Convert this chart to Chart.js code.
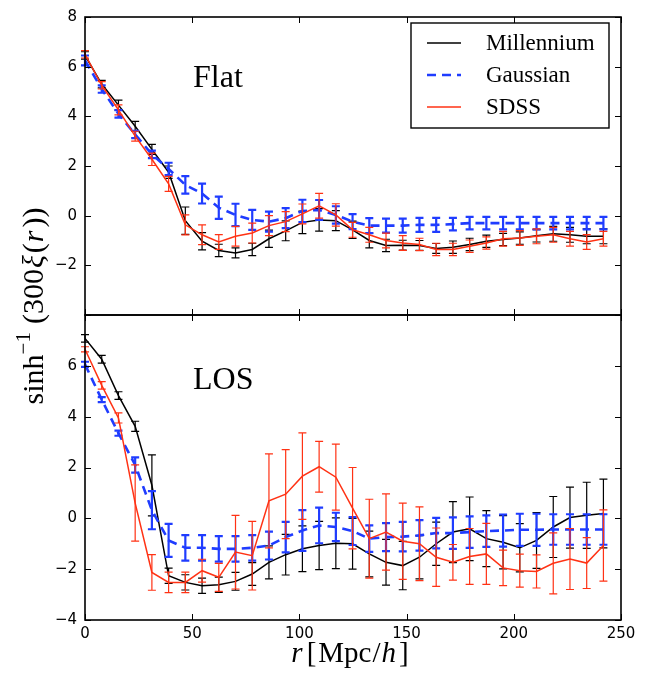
<!DOCTYPE html>
<html lang="en">
<head>
<meta charset="UTF-8" />
<title>sinh^-1(300 xi(r)) - Flat and LOS</title>
<style>
  body { margin: 0; background: #fff; }
  #wrap { position: relative; width: 654px; height: 679px; }
  #wrap canvas { position: absolute; left: 0; top: 0; }
</style>
</head>
<body>
<div id="wrap">
  <canvas id="flatChart" width="654" height="679"></canvas>
  <canvas id="losChart" width="654" height="679"></canvas>
</div>

<script src="https://cdn.jsdelivr.net/npm/chart.js"></script>
<script>
  // separation r [Mpc/h]
  const rValues = [0, 7.8, 15.6, 23.4, 31.2, 39, 46.8, 54.6, 62.4, 70.2, 78, 85.8, 93.6, 101.4, 109.2, 117,
                   124.8, 132.6, 140.4, 148.2, 156, 163.8, 171.6, 179.4, 187.2, 195, 202.8, 210.6, 218.4, 226.2, 234, 241.8];
  const xTicks = [0, 50, 100, 150, 200, 250];
  const yTicks = [-4, -2, 0, 2, 4, 6, 8];
  const seriesNames = ['Millennium', 'Gaussian', 'SDSS'];

  // Flat panel
  const flatMillennium = [6.45, 5.3, 4.45, 3.6, 2.67, 1.75, -0.2, -1.03, -1.4, -1.5, -1.36, -0.93, -0.61, -0.27, -0.17, -0.2,
                          -0.57, -1.0, -1.2, -1.19, -1.2, -1.32, -1.27, -1.16, -1.03, -0.96, -0.9, -0.81, -0.73, -0.77, -0.83, -0.83];
  const flatMillenniumErr = [0.15, 0.15, 0.2, 0.2, 0.2, 0.25, 0.55, 0.35, 0.25, 0.2, 0.25, 0.35, 0.4, 0.45, 0.45, 0.4,
                             0.35, 0.3, 0.25, 0.2, 0.2, 0.2, 0.25, 0.25, 0.25, 0.25, 0.25, 0.25, 0.3, 0.3, 0.3, 0.3];
  const flatGaussian = [6.25, 5.1, 4.1, 3.27, 2.47, 1.88, 1.24, 0.89, 0.32, 0.03, -0.17, -0.24, -0.1, 0.19, 0.23, 0.03,
                        -0.24, -0.4, -0.4, -0.4, -0.37, -0.37, -0.34, -0.3, -0.3, -0.3, -0.3, -0.3, -0.3, -0.3, -0.3, -0.3];
  const flatGaussianErr = [0.2, 0.15, 0.15, 0.15, 0.15, 0.25, 0.35, 0.4, 0.45, 0.45, 0.4, 0.4, 0.4, 0.45, 0.4, 0.35,
                           0.3, 0.3, 0.28, 0.28, 0.28, 0.28, 0.25, 0.25, 0.25, 0.25, 0.25, 0.25, 0.25, 0.25, 0.25, 0.25];
  const flatSdss = [6.5, 5.25, 4.26, 3.2, 2.27, 1.28, -0.37, -0.77, -1.06, -0.83, -0.7, -0.4, -0.24, 0.07, 0.4, 0.03,
                    -0.57, -0.77, -1.0, -1.1, -1.16, -1.36, -1.36, -1.23, -1.1, -0.93, -0.9, -0.83, -0.77, -0.93, -1.06, -0.93];
  const flatSdssErr = [0.15, 0.15, 0.2, 0.2, 0.25, 0.3, 0.4, 0.4, 0.3, 0.4, 0.4, 0.4, 0.4, 0.4, 0.5, 0.45,
                       0.3, 0.3, 0.3, 0.3, 0.25, 0.25, 0.25, 0.25, 0.25, 0.3, 0.3, 0.3, 0.3, 0.3, 0.3, 0.3];

  // LOS panel
  const losMillennium = [7.08, 6.26, 4.83, 3.62, 1.3, -2.26, -2.52, -2.65, -2.61, -2.48, -2.19, -1.73, -1.43, -1.2, -1.07, -0.98,
                         -1.0, -1.4, -1.73, -1.86, -1.53, -1.0, -0.54, -0.41, -0.8, -0.94, -1.16, -0.87, -0.34, 0.03, 0.12, 0.19];
  const losMillenniumErr = [0.15, 0.15, 0.15, 0.2, 1.2, 0.3, 0.3, 0.3, 0.3, 0.35, 0.45, 0.65, 0.8, 0.9, 0.95, 1.0,
                            1.0, 0.9, 0.9, 0.95, 0.85, 0.85, 1.2, 1.25, 1.1, 1.05, 0.95, 1.1, 1.2, 1.2, 1.3, 1.35];
  const losGaussian = [6.06, 4.67, 3.35, 2.1, 0.32, -0.87, -1.16, -1.16, -1.2, -1.2, -1.16, -1.07, -0.74, -0.48, -0.28, -0.34,
                       -0.5, -0.8, -0.74, -0.72, -0.67, -0.58, -0.58, -0.54, -0.5, -0.48, -0.45, -0.45, -0.44, -0.44, -0.44, -0.44];
  const losGaussianErr = [0.1, 0.1, 0.1, 0.3, 0.75, 0.65, 0.5, 0.5, 0.5, 0.5, 0.5, 0.55, 0.6, 0.8, 0.7, 0.56,
                          0.55, 0.52, 0.55, 0.58, 0.6, 0.6, 0.62, 0.62, 0.62, 0.63, 0.63, 0.63, 0.6, 0.6, 0.6, 0.6];
  const losSdss = [6.65, 5.23, 3.95, 0.6, -2.13, -2.52, -2.52, -2.06, -2.32, -1.33, -1.47, 0.69, 0.95, 1.66, 2.03, 1.62,
                   0.4, -0.8, -0.54, -0.9, -1.0, -1.53, -1.73, -1.5, -1.4, -1.95, -2.06, -2.09, -1.77, -1.6, -1.76, -1.07];
  const losSdssErr = [0.1, 0.15, 0.2, 1.5, 0.7, 0.4, 0.4, 0.45, 0.55, 1.45, 1.35, 1.85, 1.75, 1.7, 1.0, 1.3,
                      1.6, 1.55, 1.5, 1.5, 1.45, 1.15, 0.7, 1.1, 1.2, 0.7, 0.65, 0.65, 1.2, 1.2, 1.0, 1.4];

  const BLACK = '#000000';
  const BLUE = '#1f3cff';
  const RED = '#ff3214';
  const SERIF = '"Liberation Serif", "DejaVu Serif", serif';

  Chart.defaults.font.family = '"DejaVu Sans", sans-serif';
  Chart.defaults.font.size = 15;
  Chart.defaults.color = '#000';

  function toPoints(ys) {
    return ys.map((y, i) => ({ x: rValues[i], y: y }));
  }

  function makeDatasets(m, mErr, g, gErr, s, sErr) {
    return [
      { label: seriesNames[0], data: toPoints(m), errors: mErr, borderColor: BLACK, borderWidth: 1.5,
        errWidth: 1.2, order: 3 },
      { label: seriesNames[1], data: toPoints(g), errors: gErr, borderColor: BLUE, borderWidth: 2.6,
        borderDash: [9, 6], errWidth: 2.2, order: 2 },
      { label: seriesNames[2], data: toPoints(s), errors: sErr, borderColor: RED, borderWidth: 1.5,
        errWidth: 1.2, order: 1 }
    ];
  }

  // error bars drawn right after each line, through the chart's own y scale
  const errorBars = {
    id: 'errorBars',
    afterDatasetDraw(chart, args) {
      const ds = chart.data.datasets[args.index];
      const yScale = chart.scales.y;
      const ctx = chart.ctx;
      const cap = 4;
      ctx.save();
      ctx.strokeStyle = ds.borderColor;
      ctx.lineWidth = ds.errWidth;
      ctx.setLineDash([]);
      args.meta.data.forEach((pt, i) => {
        const v = ds.data[i].y, e = ds.errors[i];
        const x = pt.x;
        const yHi = yScale.getPixelForValue(v + e);
        const yLo = yScale.getPixelForValue(v - e);
        ctx.beginPath();
        ctx.moveTo(x, yHi); ctx.lineTo(x, yLo);
        ctx.moveTo(x - cap, yHi); ctx.lineTo(x + cap, yHi);
        ctx.moveTo(x - cap, yLo); ctx.lineTo(x + cap, yLo);
        ctx.stroke();
      });
      ctx.restore();
    }
  };

  // matplotlib style box with inward ticks on all four sides, plus panel label
  const frame = {
    id: 'frame',
    afterDraw(chart, args, opts) {
      const { ctx, chartArea: a, scales } = chart;
      const xs = scales.x, ys = scales.y;
      ctx.save();
      ctx.strokeStyle = '#000';
      ctx.lineWidth = 1;
      ctx.beginPath();
      xTicks.forEach(t => {
        const px = Math.round(xs.getPixelForValue(t)) + 0.5;
        ctx.moveTo(px, a.bottom); ctx.lineTo(px, a.bottom - 6);
        ctx.moveTo(px, a.top); ctx.lineTo(px, a.top + 6);
      });
      yTicks.forEach(t => {
        const py = Math.round(ys.getPixelForValue(t)) + 0.5;
        ctx.moveTo(a.left, py); ctx.lineTo(a.left + 6, py);
        ctx.moveTo(a.right, py); ctx.lineTo(a.right - 6, py);
      });
      ctx.stroke();
      ctx.lineWidth = 1.6;
      ctx.strokeRect(a.left, a.top, a.right - a.left, a.bottom - a.top);

      ctx.fillStyle = '#000';
      ctx.font = '32px ' + SERIF;
      ctx.textBaseline = 'alphabetic';
      ctx.textAlign = 'left';
      ctx.fillText(opts.label, opts.labelX, opts.labelY);
      ctx.restore();
    }
  };

  // legend box in the upper right of the Flat panel
  const legendBox = {
    id: 'legendBox',
    afterDraw(chart) {
      const ctx = chart.ctx;
      const left = 411, top = 23, w = 198, h = 105;
      ctx.save();
      ctx.fillStyle = '#fff';
      ctx.fillRect(left, top, w, h);
      ctx.strokeStyle = '#000';
      ctx.lineWidth = 1.4;
      ctx.strokeRect(left, top, w, h);
      ctx.font = '23px ' + SERIF;
      ctx.textBaseline = 'middle';
      chart.data.datasets.forEach((ds, i) => {
        const y = 43 + i * 32;
        ctx.strokeStyle = ds.borderColor;
        ctx.lineWidth = ds.borderWidth;
        ctx.setLineDash(ds.borderDash || []);
        ctx.beginPath();
        ctx.moveTo(427, y); ctx.lineTo(461, y);
        ctx.stroke();
        ctx.setLineDash([]);
        ctx.fillStyle = '#000';
        ctx.fillText(ds.label, 486, y + 1);
      });
      ctx.restore();
    }
  };

  // axis titles with mixed roman / italic pieces (gap = extra math spacing after a piece)
  function drawPieces(ctx, pieces, startX, baseY) {
    let x = startX;
    pieces.forEach(p => {
      ctx.font = p.font;
      ctx.fillText(p.text, x, baseY + (p.dy || 0));
      x += ctx.measureText(p.text).width + (p.gap || 0);
    });
  }
  function piecesWidth(ctx, pieces) {
    let w = 0;
    pieces.forEach(p => { ctx.font = p.font; w += ctx.measureText(p.text).width + (p.gap || 0); });
    return w;
  }

  const axisTitles = {
    id: 'axisTitles',
    afterDraw(chart) {
      const ctx = chart.ctx;
      ctx.save();
      ctx.fillStyle = '#000';
      ctx.textBaseline = 'alphabetic';
      ctx.textAlign = 'left';

      const xr = '29px ' + SERIF, xi = 'italic 29px ' + SERIF;
      const xt = [
        { text: 'r', font: xi, gap: 4 }, { text: '[', font: xr, gap: 2 }, { text: 'Mpc', font: xr, gap: 1 },
        { text: '/', font: xr, gap: 1 }, { text: 'h', font: xi, gap: 3 }, { text: ']', font: xr }
      ];
      const xw = piecesWidth(ctx, xt);
      drawPieces(ctx, xt, 350 - xw / 2, 662);

      const rom = '30px ' + SERIF, ita = 'italic 30px ' + SERIF, sup = '21px ' + SERIF;
      const yt = [
        { text: 'sinh', font: rom }, { text: '\u22121', font: sup, dy: -13, gap: 8 },
        { text: '(300', font: rom, gap: 1 }, { text: '\u03be', font: ita, gap: 2 }, { text: '(', font: rom, gap: 1 },
        { text: 'r', font: ita, gap: 3 }, { text: '))', font: rom }
      ];
      const yw = piecesWidth(ctx, yt);
      ctx.translate(43, 306);
      ctx.rotate(-Math.PI / 2);
      drawPieces(ctx, yt, -yw / 2, 0);
      ctx.restore();
    }
  };

  function yTickLabel(hidden) {
    return v => (v === hidden ? '' : String(v).replace('-', '\u2212'));
  }

  function baseOptions(hiddenY, showX, padding, label, labelY) {
    return {
      responsive: false,
      animation: false,
      layout: { padding: padding },
      elements: { point: { radius: 0, hoverRadius: 0 }, line: { tension: 0, fill: false } },
      plugins: {
        legend: { display: false },
        tooltip: { enabled: false },
        frame: { label: label, labelX: 193, labelY: labelY }
      },
      scales: {
        x: {
          type: 'linear', min: 0, max: 250, display: showX,
          grid: { display: false, drawTicks: false },
          border: { display: false },
          ticks: { stepSize: 50, autoSkip: false, padding: 5, maxRotation: 0 },
          afterFit: s => { s.height = showX ? 59 : 0; }
        },
        y: {
          type: 'linear', min: -4, max: 8,
          grid: { display: false, drawTicks: false },
          border: { display: false },
          ticks: { stepSize: 2, padding: 8, callback: yTickLabel(hiddenY) },
          afterFit: s => { s.width = 85; }
        }
      }
    };
  }

  new Chart(document.getElementById('flatChart'), {
    type: 'line',
    data: { datasets: makeDatasets(flatMillennium, flatMillenniumErr, flatGaussian, flatGaussianErr, flatSdss, flatSdssErr) },
    options: baseOptions(-4, false, { top: 12, right: 33, bottom: 364, left: 0 }, 'Flat', 87),
    plugins: [errorBars, frame, legendBox]
  });

  new Chart(document.getElementById('losChart'), {
    type: 'line',
    data: { datasets: makeDatasets(losMillennium, losMillenniumErr, losGaussian, losGaussianErr, losSdss, losSdssErr) },
    options: baseOptions(8, true, { top: 315, right: 33, bottom: 0, left: 0 }, 'LOS', 389),
    plugins: [errorBars, frame, axisTitles]
  });
</script>
</body>
</html>
